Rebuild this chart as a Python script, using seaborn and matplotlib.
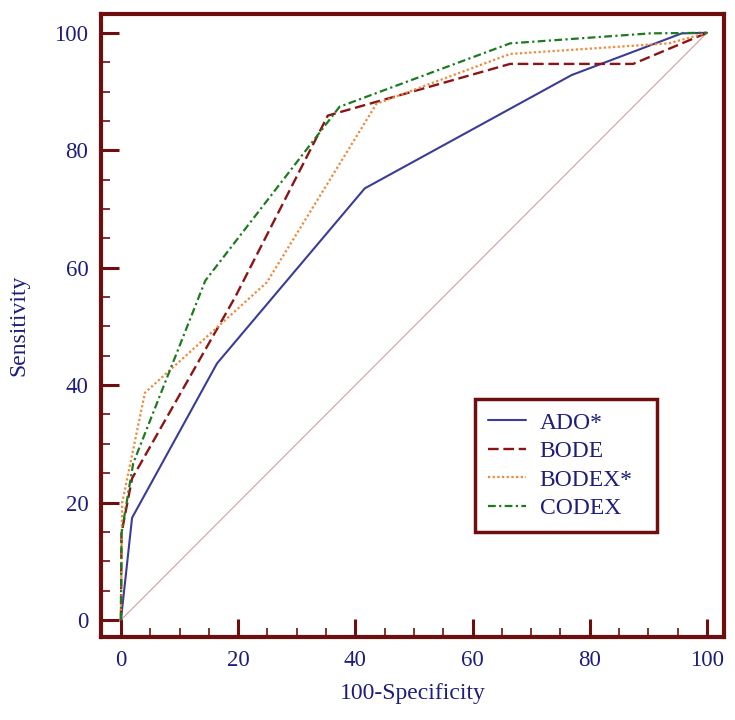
import numpy as np
import pandas as pd
import matplotlib
matplotlib.use("Agg")
import matplotlib.pyplot as plt
from matplotlib.ticker import MultipleLocator
import seaborn as sns

# ROC points (100-Specificity, Sensitivity)
ado_x = [0, 1.9, 16.4, 41.6, 76.9, 95.7, 100]
ado_y = [0, 17.4, 43.7, 73.5, 92.8, 99.9, 100]

bode_x = [0, 0.1, 1.9, 19.5, 35.3, 66.4, 87.4, 100]
bode_y = [0, 14.8, 24.1, 55.0, 85.9, 94.7, 94.7, 100]

bodex_x = [0, 0.2, 4.1, 24.9, 43.6, 66.4, 93.5, 100]
bodex_y = [0, 19.9, 38.7, 57.5, 87.9, 96.4, 98.2, 100]

codex_x = [0, 0.1, 2.1, 14.4, 37.3, 66.4, 90.3, 100]
codex_y = [0, 14.8, 26.7, 57.8, 87.4, 98.2, 99.9, 100]

diag_x = [0, 100]
diag_y = [0, 100]

labels = ["ADO*", "BODE", "BODEX*", "CODEX"]

maroon = "#6e0f0f"
navy = "#1e1e7a"

sns.set_style("white")
plt.rcParams["font.family"] = ["Liberation Serif", "DejaVu Serif"]

fig = plt.figure(figsize=(7.35, 7.2), dpi=100)
ax = fig.add_axes([101 / 735, 83 / 720, 623 / 735, 623 / 720])

series = [
    (ado_x, ado_y, "#3a3c96", "-", 1.5),
    (bode_x, bode_y, "#8b1414", (0, (4.5, 2)), 1.7),
    (bodex_x, bodex_y, "#f0883a", (0, (1, 1.1)), 1.6),
    (codex_x, codex_y, "#1f7a1f", (0, (3.5, 1.5, 1, 1.5)), 1.6),
]

sns.lineplot(x=diag_x, y=diag_y, ax=ax, color="#c9a3a3", linewidth=0.8,
             sort=False, estimator=None)

for (xs, ys, c, ls, lw), lab in zip(series, labels):
    sns.lineplot(x=xs, y=ys, ax=ax, color=c, linestyle=ls, linewidth=lw,
                 sort=False, estimator=None, label=lab)

ax.set_xlim(-3.4, 102.9)
ax.set_ylim(-2.9, 103.2)

ax.xaxis.set_major_locator(MultipleLocator(20))
ax.yaxis.set_major_locator(MultipleLocator(20))
ax.xaxis.set_minor_locator(MultipleLocator(5))
ax.yaxis.set_minor_locator(MultipleLocator(5))

for sp in ax.spines.values():
    sp.set_color(maroon)
    sp.set_linewidth(3)

ax.tick_params(which="major", direction="in", length=13, width=2.2,
               color=maroon, labelcolor=navy, labelsize=16.5, pad=9)
ax.tick_params(which="minor", direction="in", length=6.5, width=1.2,
               color=maroon)
ax.tick_params(axis="x", which="both", bottom=True, top=False)
ax.tick_params(axis="y", which="both", left=True, right=False)

ax.set_xlabel("100-Specificity", color=navy, fontsize=17, labelpad=9)
ax.set_ylabel("Sensitivity", color=navy, fontsize=17, labelpad=18)

leg = ax.legend(loc="upper left", bbox_to_anchor=(0.600, 0.170, 0.292, 0.212),
                mode="expand", fontsize=17, frameon=True, fancybox=False,
                framealpha=1, handlelength=1.6, handletextpad=0.6,
                labelspacing=0.3, borderpad=0.55, borderaxespad=0)
leg.get_frame().set_edgecolor(maroon)
leg.get_frame().set_linewidth(2.5)
for t in leg.get_texts():
    t.set_color(navy)

fig.savefig("out.png", dpi=100)
